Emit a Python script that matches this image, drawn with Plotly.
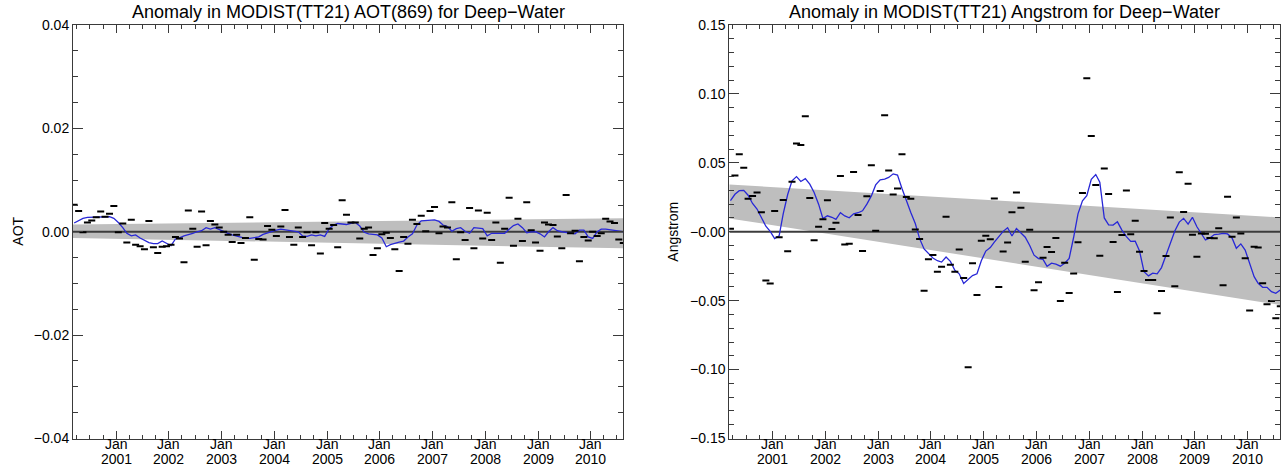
import pandas as pd
import plotly.graph_objects as go
from plotly.subplots import make_subplots

# ---------------- data ----------------
months = pd.date_range("2000-03-01", periods=126, freq="MS") + pd.Timedelta(days=14)
x_range = ["2000-03-07", "2010-08-13"]

aot_anom = [
    0.0052, 0.0040, -0.0001, 0.0018, 0.0022, 0.0028, 0.0039, 0.0029, 0.0035, 0.0050,
    -0.0001, 0.0016, -0.0021, 0.0023, -0.0025, -0.0028, -0.0034, 0.0021, -0.0030, -0.0041,
    -0.0029, -0.0028, -0.0025, -0.0010, -0.0013, -0.0059, 0.0041, 0.0006, -0.0029, 0.0039,
    -0.0026, 0.0021, 0.0014, 0.0008, 0.0000, -0.0006, -0.0020, -0.0006, -0.0022, -0.0012,
    0.0028, -0.0054, -0.0014, -0.0015, 0.0011, 0.0004, -0.0008, 0.0010, 0.0042, -0.0010,
    -0.0025, 0.0008, -0.0010, -0.0001, -0.0026, -0.0001, -0.0042, 0.0017, 0.0006, 0.0013,
    -0.0030, 0.0061, 0.0033, 0.0018, 0.0018, -0.0013, 0.0006, 0.0008, -0.0045, -0.0032,
    -0.0005, -0.0002, -0.0012, -0.0034, -0.0076, -0.0010, -0.0023, 0.0023, 0.0015, 0.0031,
    0.0001, 0.0040, 0.0048, -0.0003, 0.0010, 0.0008, 0.0057, -0.0053, -0.0001, -0.0016,
    0.0046, -0.0032, 0.0041, -0.0013, 0.0037, -0.0016, 0.0018, -0.0060, 0.0006, 0.0066,
    -0.0027, 0.0025, -0.0018, 0.0057, 0.0003, -0.0021, -0.0037, 0.0018, 0.0014, 0.0013,
    -0.0009, -0.0032, 0.0071, -0.0003, 0.0002, -0.0057, -0.0010, -0.0017, 0.0000, -0.0008,
    -0.0003, 0.0025, 0.0020, 0.0017, -0.0015, -0.0022,
]
aot_smooth = [
    0.0017, 0.0022, 0.0026, 0.0028, 0.0028, 0.0028, 0.0028, 0.0029, 0.0029, 0.0026,
    0.0018, 0.0008, -0.0003, -0.0008, -0.0006, -0.0012, -0.0017, -0.0021, -0.0023, -0.0023,
    -0.0018, -0.0023, -0.0027, -0.0014, -0.0012, -0.0008, -0.0006, -0.0003, 0.0000, 0.0002,
    0.0008, 0.0005, 0.0008, 0.0004, 0.0000, -0.0003, -0.0006, -0.0008, -0.0010, -0.0013,
    -0.0013, -0.0012, -0.0010, -0.0005, -0.0002, 0.0000, 0.0003, 0.0005, 0.0004, 0.0003,
    0.0002, 0.0000, -0.0008, -0.0009, -0.0006, -0.0008, -0.0006, -0.0009, 0.0006, 0.0013,
    0.0016, 0.0015, 0.0014, 0.0016, 0.0018, 0.0011, -0.0001, -0.0004, -0.0005, -0.0006,
    -0.0012, -0.0029, -0.0025, -0.0022, -0.0020, -0.0018, -0.0010, -0.0004, 0.0013, 0.0021,
    0.0022, 0.0023, 0.0023, 0.0020, 0.0013, 0.0010, 0.0001, 0.0006, 0.0008, 0.0001,
    -0.0003, 0.0008, 0.0007, 0.0006, -0.0008, -0.0003, -0.0003, -0.0003, -0.0003, 0.0005,
    0.0012, 0.0015, 0.0008, -0.0002, 0.0000, 0.0000, -0.0004, -0.0010, 0.0000, 0.0008,
    0.0002, 0.0000, -0.0001, -0.0002, -0.0004, 0.0003, 0.0003, -0.0010, -0.0013, 0.0000,
    0.0005, 0.0005, 0.0004, 0.0003, 0.0001, 0.0000,
]
aot_band_upper = [0.0014, 0.0026]
aot_band_lower = [-0.0012, -0.0032]

ang_anom = [
    0.0022, 0.0408, 0.0563, 0.0464, 0.0239, 0.0260, 0.0285, 0.0142, -0.0353, -0.0375,
    0.0150, -0.0040, 0.0230, -0.0141, 0.0362, 0.0640, 0.0630, 0.0838, 0.0245, -0.0062,
    0.0036, 0.0090, 0.0228, 0.0020, 0.0065, 0.0405, -0.0092, -0.0087, 0.0434, 0.0121,
    -0.0140, 0.0258, 0.0482, 0.0007, 0.0295, 0.0845, 0.0445, 0.0270, 0.0313, 0.0563,
    0.0252, 0.0240, 0.0017, -0.0053, -0.0428, -0.0200, -0.0169, -0.0290, -0.0254, 0.0109,
    -0.0240, -0.0290, -0.0129, -0.0335, -0.0983, -0.0229, -0.0459, -0.0065, -0.0029, -0.0055,
    0.0242, -0.0400, -0.0143, -0.0078, 0.0141, 0.0285, 0.0175, -0.0217, 0.0015, -0.0425,
    -0.0367, -0.0188, -0.0111, -0.0147, -0.0046, -0.0502, -0.0225, -0.0444, -0.0302, -0.0077,
    0.0281, 0.1114, 0.0694, 0.0339, -0.0174, 0.0459, 0.0273, -0.0075, -0.0437, -0.0024,
    0.0300, -0.0019, 0.0080, -0.0145, -0.0285, -0.0350, -0.0350, -0.0592, -0.0430, -0.0176,
    0.0104, -0.0396, 0.0431, 0.0143, 0.0348, -0.0022, -0.0181, -0.0012, -0.0015, -0.0045,
    -0.0048, 0.0025, -0.0389, 0.0254, -0.0036, 0.0104, -0.0012, -0.0193, -0.0572, -0.0109,
    -0.0114, -0.0374, -0.0526, -0.0502, -0.0628, -0.0541,
]
ang_smooth = [
    0.0225, 0.0272, 0.0298, 0.0300, 0.0265, 0.0205, 0.0165, 0.0105, 0.0040, 0.0003,
    -0.0050, -0.0030, 0.0130, 0.0270, 0.0370, 0.0400, 0.0365, 0.0385, 0.0345, 0.0285,
    0.0200, 0.0095, 0.0116, 0.0105, 0.0090, 0.0138, 0.0115, 0.0101, 0.0130, 0.0138,
    0.0152, 0.0200, 0.0260, 0.0340, 0.0376, 0.0382, 0.0394, 0.0420, 0.0411, 0.0314,
    0.0225, 0.0140, 0.0060, -0.0050, -0.0125, -0.0160, -0.0190, -0.0210, -0.0220, -0.0183,
    -0.0215, -0.0280, -0.0305, -0.0375, -0.0345, -0.0318, -0.0305, -0.0210, -0.0140, -0.0115,
    -0.0075, -0.0036, 0.0003, 0.0029, -0.0031, 0.0024, -0.0007, -0.0040, -0.0100, -0.0170,
    -0.0195, -0.0200, -0.0250, -0.0228, -0.0235, -0.0250, -0.0228, -0.0193, -0.0040, 0.0130,
    0.0225, 0.0262, 0.0380, 0.0415, 0.0360, 0.0100, 0.0050, 0.0048, 0.0072, 0.0012,
    -0.0036, -0.0070, -0.0068, -0.0140, -0.0290, -0.0320, -0.0300, -0.0305, -0.0260, -0.0169,
    -0.0097, 0.0005, 0.0070, 0.0097, 0.0056, 0.0105, 0.0036, -0.0010, -0.0060, -0.0045,
    -0.0020, -0.0017, -0.0012, -0.0016, -0.0045, -0.0120, -0.0088, -0.0133, -0.0229, -0.0326,
    -0.0374, -0.0403, -0.0403, -0.0435, -0.0447, -0.0423,
]
ang_band_upper = [0.0343, 0.0104]
ang_band_lower = [0.0097, -0.0531]

years = list(range(2001, 2011))
aot_ticks = [0.04, 0.02, 0.0, -0.02, -0.04]
aot_ticktext = ["0.04", "0.02", "0.00", "\u22120.02", "\u22120.04"]
ang_ticks = [0.15, 0.10, 0.05, 0.0, -0.05, -0.10, -0.15]
ang_ticktext = ["0.15", "0.10", "0.05", "\u22120.00", "\u22120.05", "\u22120.10", "\u22120.15"]

titles = ["Anomaly in MODIST(TT21) AOT(869) for Deep\u2212Water",
          "Anomaly in MODIST(TT21) Angstrom for Deep\u2212Water"]
ytitles = ["AOT", "Angstrom"]

# ---------------- figure ----------------
W, H = 1286, 467
FONT = "Liberation Sans, Arial, Helvetica, sans-serif"
AXC = "#3a3a3a"
BAND = "#bebebe"
BLUE = "rgb(40,40,215)"

fig = make_subplots(rows=1, cols=2)

panels = [
    dict(anom=aot_anom, smooth=aot_smooth, up=aot_band_upper, lo=aot_band_lower,
         yr=[-0.04, 0.04], tv=aot_ticks, tt=aot_ticktext, minor=0.005),
    dict(anom=ang_anom, smooth=ang_smooth, up=ang_band_upper, lo=ang_band_lower,
         yr=[-0.15, 0.15], tv=ang_ticks, tt=ang_ticktext, minor=0.01),
]

xdom = [[73 / W, 623 / W], [729.3 / W, 1280 / W]]
ydom = [1 - 438.5 / H, 1 - 25 / H]

for k, p in enumerate(panels):
    col = k + 1
    fig.add_trace(go.Scatter(
        x=[x_range[0], x_range[1], x_range[1], x_range[0], x_range[0]],
        y=[p["up"][0], p["up"][1], p["lo"][1], p["lo"][0], p["up"][0]],
        fill="toself", fillcolor=BAND, line=dict(width=0), mode="lines",
        hoverinfo="skip", showlegend=False), row=1, col=col)
    fig.add_trace(go.Scatter(
        x=x_range, y=[0, 0], mode="lines", line=dict(color="#3c3c3c", width=2),
        hoverinfo="skip", showlegend=False), row=1, col=col)
    fig.add_trace(go.Scatter(
        x=months, y=p["smooth"], mode="lines", line=dict(color=BLUE, width=1.3),
        showlegend=False), row=1, col=col)
    fig.add_trace(go.Scatter(
        x=months, y=p["anom"], mode="markers",
        marker=dict(symbol="line-ew", size=5, line=dict(color="black", width=2)),
        showlegend=False), row=1, col=col)

    xa = "xaxis" if k == 0 else "xaxis2"
    ya = "yaxis" if k == 0 else "yaxis2"
    fig.layout[xa].update(
        domain=xdom[k], type="date", range=x_range, automargin=False,
        tickmode="array", tickvals=[f"{y}-01-01" for y in years],
        showticklabels=False, ticks="inside", ticklen=8, tickwidth=1, tickcolor=AXC,
        minor=dict(ticks="inside", ticklen=4, tickwidth=1, tickcolor=AXC,
                   dtick="M3", tick0="2000-01-01", showgrid=False),
        showline=True, linecolor=AXC, linewidth=1, mirror="ticks",
        showgrid=False, zeroline=False)
    fig.layout[ya].update(
        domain=ydom, range=p["yr"], automargin=False,
        tickmode="array", tickvals=p["tv"], ticktext=p["tt"],
        ticks="inside", ticklen=10, tickwidth=1, tickcolor=AXC,
        minor=dict(ticks="inside", ticklen=5, tickwidth=1, tickcolor=AXC,
                   dtick=p["minor"], tick0=0, showgrid=False),
        showline=True, linecolor=AXC, linewidth=1, mirror="ticks",
        showgrid=False, zeroline=False,
        tickfont=dict(family=FONT, size=14, color="black"))

annotations = []
for k in range(2):
    xref = "x" if k == 0 else "x2"
    annotations.append(dict(
        text=titles[k], xref="paper", yref="paper",
        x=(xdom[k][0] + xdom[k][1]) / 2, y=1 - 12 / H,
        xanchor="center", yanchor="middle", showarrow=False,
        font=dict(family=FONT, size=18, color="black")))
    annotations.append(dict(
        text=ytitles[k], xref="paper", yref="paper",
        x=(18 if k == 0 else 673) / W, y=1 - 231.7 / H, textangle=-90,
        xanchor="center", yanchor="middle", showarrow=False,
        font=dict(family=FONT, size=14, color="black")))
    for y in years:
        annotations.append(dict(
            text="Jan", xref=xref, yref="paper", x=f"{y}-01-01", y=1 - 443.6 / H,
            xanchor="center", yanchor="middle", showarrow=False,
            font=dict(family=FONT, size=14, color="black")))
        annotations.append(dict(
            text=str(y), xref=xref, yref="paper", x=f"{y}-01-01", y=1 - 459.3 / H,
            xanchor="center", yanchor="middle", showarrow=False,
            font=dict(family=FONT, size=14, color="black")))

fig.update_layout(
    width=W, height=H, margin=dict(l=0, r=0, t=0, b=0, pad=0, autoexpand=False),
    paper_bgcolor="white", plot_bgcolor="white",
    annotations=annotations, showlegend=False, hovermode=False,
    font=dict(family=FONT, color="black"),
)

fig.write_html(
    "out.html",
    config={"displayModeBar": False, "staticPlot": True},
    post_script="document.body.style.margin='0';document.body.style.overflow='hidden';",
)
